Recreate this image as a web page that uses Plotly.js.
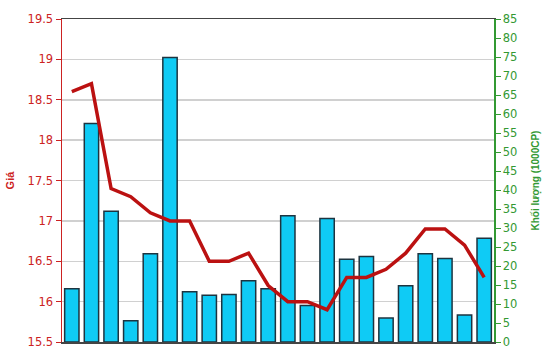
<!DOCTYPE html>
<html>
<head>
<meta charset="utf-8">
<script src="https://cdn.plot.ly/plotly-3.0.1.min.js"></script>
<style>html,body{margin:0;padding:0;background:#fff;}#chart{width:550px;height:364px;}</style>
</head>
<body>
<div id="chart"></div>
<script>
const sessions = [1,2,3,4,5,6,7,8,9,10,11,12,13,14,15,16,17,18,19,20,21,22];
const volume = [14, 57.5, 34.4, 5.6, 23.2, 74.9, 13.2, 12.3, 12.5, 16.1, 14, 33.2, 9.6, 32.5, 21.8, 22.5, 6.3, 14.8, 23.2, 22.0, 7.1, 27.3];
const price = [18.6, 18.7, 17.4, 17.3, 17.1, 17.0, 17.0, 16.5, 16.5, 16.6, 16.2, 16.0, 16.0, 15.9, 16.3, 16.3, 16.4, 16.6, 16.9, 16.9, 16.7, 16.3];
const priceTicks = [15.5, 16, 16.5, 17, 17.5, 18, 18.5, 19, 19.5];
const volumeTicks = [0,5,10,15,20,25,30,35,40,45,50,55,60,65,70,75,80,85];

const red = '#cc2222';
const green = '#339933';
const tickFont = 'DejaVu Sans, sans-serif';
const titleFont = 'Liberation Sans, Arial, sans-serif';

const traces = [
  {
    type: 'bar', x: sessions, y: volume, yaxis: 'y',
    marker: {color: '#0fcbf5', line: {color: '#1d3440', width: 1.5}},
    hoverinfo: 'skip'
  },
  {
    type: 'scatter', mode: 'lines', x: sessions, y: price, yaxis: 'y2',
    line: {color: '#bb1111', width: 3.5},
    hoverinfo: 'skip'
  }
];

const layout = {
  width: 550, height: 364,
  margin: {l: 62, r: 56, t: 19, b: 22},
  paper_bgcolor: '#fff', plot_bgcolor: '#fff',
  showlegend: false,
  bargap: 0.27,
  xaxis: {
    type: 'linear', range: [0.5, 22.5],
    showticklabels: false, ticks: '', showgrid: false, zeroline: false,
    showline: true, linecolor: '#444', linewidth: 1.5, mirror: true
  },
  yaxis: {
    side: 'right', range: [0, 85], tickvals: volumeTicks,
    showgrid: false, zeroline: false,
    showline: true, linecolor: green, linewidth: 1.5,
    ticks: 'outside', ticklen: 5, tickcolor: green,
    tickfont: {family: tickFont, size: 11.5, color: green},
    title: {text: 'Khối lượng (1000CP)', font: {family: titleFont, size: 10, color: green, weight: 'bold'}, standoff: 15}
  },
  yaxis2: {
    overlaying: 'y', side: 'left', range: [15.5, 19.5], tickvals: priceTicks,
    showgrid: true, gridcolor: '#d0d0d0', gridwidth: 1.5, zeroline: false,
    showline: true, linecolor: red, linewidth: 1.5,
    ticks: 'outside', ticklen: 5, tickcolor: red,
    tickfont: {family: tickFont, size: 11.5, color: red},
    title: {text: 'Giá', font: {family: titleFont, size: 11, color: red, weight: 'bold'}, standoff: 10}
  }
};

Plotly.newPlot('chart', traces, layout, {staticPlot: true, displayModeBar: false});
</script>
</body>
</html>
